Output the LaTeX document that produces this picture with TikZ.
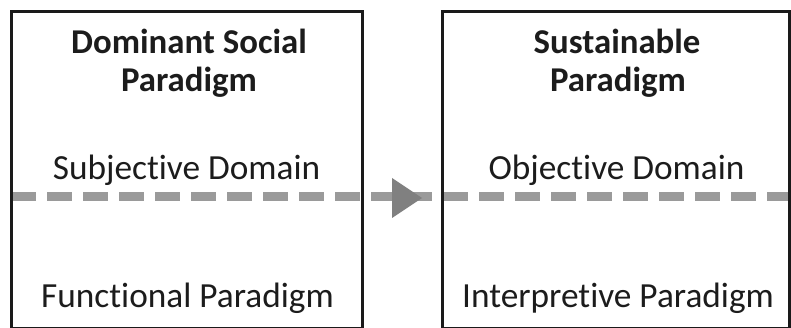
\documentclass[tikz,border=0pt]{standalone}
\usepackage{fontspec}
\setmainfont[Ligatures={NoCommon,TeX}]{Carlito}
\definecolor{boxline}{HTML}{1A1A1A}
\definecolor{dashgray}{HTML}{9A9A9A}
\definecolor{arrowgray}{HTML}{808080}
\definecolor{txt}{HTML}{1C1C1C}
\begin{document}
\begin{tikzpicture}[x=1pt,y=-1pt,
  paradbox/.style={draw=boxline,line width=3pt},
  domline/.style={dashgray,line width=9pt,dash pattern=on 25.4pt off 10.6pt},
  titletext/.style={anchor=base,inner sep=0pt,text=txt,font=\fontsize{34.8}{38.4}\selectfont\bfseries},
  bodytext/.style={anchor=base,inner sep=0pt,text=txt,font=\fontsize{35.3}{38.4}\selectfont},
  tri/.style={fill=arrowgray,draw=none}]
\useasboundingbox (0,0) rectangle (791,328);
\clip (0,0) rectangle (791,328);
% dashed domain boundary
\coordinate (dstart) at (11,197);
\coordinate (dend) at (791,197);
\draw[domline] (dstart) -- (dend);
% arrow triangle
\coordinate (ta) at (392,178);
\coordinate (tb) at (392,218);
\coordinate (tc) at (422,198);
\fill[tri] (ta) -- (tc) -- (tb) -- cycle;
% boxes
\draw[paradbox] (11.5,12) rectangle (362.5,328.5);
\draw[paradbox] (442,12) rectangle (789.8,328.5);
% left texts
\node[titletext] (dsp1) at (189,53.3) {Dominant Social};
\node[titletext] (dsp2) at (189,91.7) {Paradigm};
\node[bodytext] (subj) at (186.5,179.5) {Subjective Domain};
\node[bodytext] (func) at (187.5,307.5) {Functional Paradigm};
% right texts
\node[titletext] (sus1) at (617,53.3) {Sustainable};
\node[titletext] (sus2) at (618,91.7) {Paradigm};
\node[bodytext] (obj) at (616.5,179.5) {Objective Domain};
\node[bodytext] (interp) at (618,307.5) {Interpretive Paradigm};
\end{tikzpicture}
\end{document}
